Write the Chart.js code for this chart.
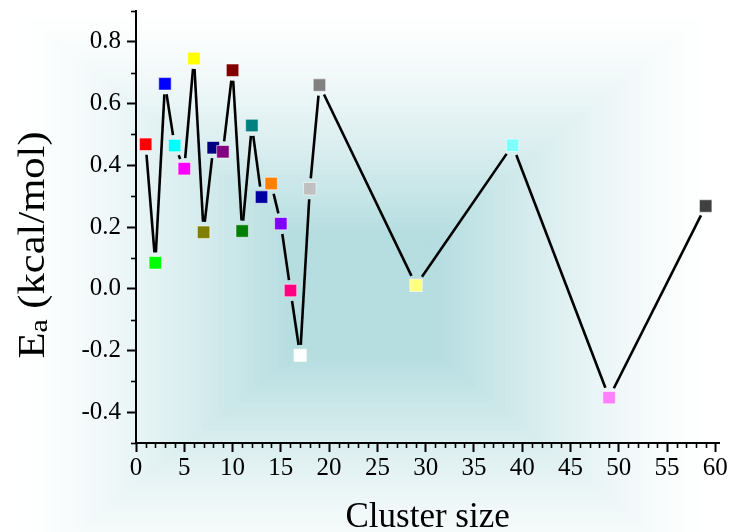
<!DOCTYPE html>
<html>
<head>
<meta charset="utf-8">
<script src="https://cdn.jsdelivr.net/npm/chart.js@4/dist/chart.umd.min.js"></script>
<style>
  html, body { margin: 0; padding: 0; background: #ffffff; }
  #wrap { width: 729px; height: 532px; position: relative; }
</style>
</head>
<body>
<div id="wrap"><canvas id="c" width="729" height="532"></canvas></div>
<script>
// ---- data ----
const clusterSizes = [1, 2, 3, 4, 5, 6, 7, 8, 9, 10, 11, 12, 13, 14, 15, 16, 17, 18, 19, 29, 39, 49, 59];
const activationEnergies = [0.468, 0.084, 0.664, 0.464, 0.389, 0.746, 0.183, 0.457, 0.444, 0.708, 0.187, 0.529, 0.297, 0.341, 0.211, -0.006, -0.216, 0.324, 0.660, 0.011, 0.465, -0.353, 0.268];
const markerColors = ['#FF0000', '#00FF00', '#0000FF', '#00FFFF', '#FF00FF', '#FFFF00', '#808000', '#000080', '#800080', '#800000', '#008000', '#008080', '#0000A0', '#FF8000', '#8000FF', '#FF0080', '#FFFFFF', '#C0C0C0', '#808080', '#FFFF80', '#80FFFF', '#FF80FF', '#404040'];
const xMajorTicks = [0, 5, 10, 15, 20, 25, 30, 35, 40, 45, 50, 55, 60];
const yMajorTicks = [-0.4, -0.2, 0.0, 0.2, 0.4, 0.6, 0.8];
const xAxisTitle = 'Cluster size';
const yAxisTitleMain = 'E';
const yAxisTitleSub = 'a';
const yAxisTitleRest = ' (kcal/mol)';

// ---- styling ----
const FONT = '"Liberation Serif", "Times New Roman", serif';

const points = clusterSizes.map((x, i) => ({ x: x, y: activationEnergies[i] }));

const bgPlugin = {
  id: 'bgGradient',
  beforeDraw(chart) {
    const ctx = chart.ctx;
    const W = chart.width, H = chart.height;
    ctx.save();
    ctx.fillStyle = '#ffffff';
    ctx.fillRect(0, 0, W, H);
    const cx = 365, cy = 295, hx = 350, hy = 290;
    const teal = [182, 221, 224];
    const N = 60;
    for (let i = 0; i <= N; i++) {
      const t = 1 - i / N;
      let s = Math.min(1, Math.max(0, (1 - t) / 0.78));
      s = Math.pow(s, 1.4);
      const r = Math.round(255 + (teal[0] - 255) * s);
      const g = Math.round(255 + (teal[1] - 255) * s);
      const b = Math.round(255 + (teal[2] - 255) * s);
      ctx.fillStyle = `rgb(${r},${g},${b})`;
      ctx.fillRect(cx - hx * t, cy - hy * t, 2 * hx * t, 2 * hy * t);
    }
    ctx.restore();
  }
};

const gapLinePlugin = {
  id: 'gapLine',
  beforeDatasetsDraw(chart) {
    const meta = chart.getDatasetMeta(0);
    const pts = meta.data;
    const ctx = chart.ctx;
    const gap = 10.5;
    ctx.save();
    ctx.strokeStyle = '#000000';
    ctx.lineWidth = 2.6;
    ctx.lineCap = 'butt';
    for (let i = 0; i < pts.length - 1; i++) {
      const a = pts[i], b = pts[i + 1];
      const dx = b.x - a.x, dy = b.y - a.y;
      const len = Math.hypot(dx, dy);
      if (len <= 2 * gap) continue;
      const ux = dx / len, uy = dy / len;
      ctx.beginPath();
      ctx.moveTo(a.x + ux * gap, a.y + uy * gap);
      ctx.lineTo(b.x - ux * gap, b.y - uy * gap);
      ctx.stroke();
    }
    ctx.restore();
  }
};

const minorTickPlugin = {
  id: 'minorTicks',
  afterDraw(chart) {
    const ctx = chart.ctx;
    const xs = chart.scales.x, ys = chart.scales.y;
    const area = chart.chartArea;
    ctx.save();
    ctx.strokeStyle = '#000000';
    ctx.lineWidth = 1.6;
    for (let v = 1; v <= 60; v++) {
      if (v % 5 === 0) continue;
      const px = Math.round(xs.getPixelForValue(v)) + 0.5;
      ctx.beginPath();
      ctx.moveTo(px, area.bottom);
      ctx.lineTo(px, area.bottom + 5);
      ctx.stroke();
    }
    for (let k = -5; k <= 9; k += 2) {
      const py = Math.round(ys.getPixelForValue(k / 10)) + 0.5;
      ctx.beginPath();
      ctx.moveTo(area.left, py);
      ctx.lineTo(area.left - 5, py);
      ctx.stroke();
    }
    // y axis title with subscript
    const big = 37, small = 26, stretch = 1.15;
    ctx.fillStyle = '#000000';
    ctx.textBaseline = 'alphabetic';
    ctx.font = `${big}px ${FONT}`;
    const w1 = ctx.measureText(yAxisTitleMain).width;
    const w3 = ctx.measureText(yAxisTitleRest).width;
    ctx.font = `${small}px ${FONT}`;
    const w2 = ctx.measureText(yAxisTitleSub).width;
    const total = w1 + w2 + w3;
    const centerY = (area.top + area.bottom) / 2 + 18;
    ctx.translate(44, centerY);
    ctx.rotate(-Math.PI / 2);
    ctx.scale(stretch, 1);
    let x0 = -total / 2;
    ctx.font = `${big}px ${FONT}`;
    ctx.fillText(yAxisTitleMain, x0, 0);
    ctx.font = `${small}px ${FONT}`;
    ctx.fillText(yAxisTitleSub, x0 + w1, 3);
    ctx.font = `${big}px ${FONT}`;
    ctx.fillText(yAxisTitleRest, x0 + w1 + w2, 0);
    ctx.restore();
  }
};

function zeroPad(scale) {
  scale.paddingTop = 0;
  scale.paddingBottom = 0;
  scale.paddingLeft = 0;
  scale.paddingRight = 0;
}

new Chart(document.getElementById('c'), {
  type: 'scatter',
  data: {
    datasets: [{
      label: 'Ea',
      data: points,
      showLine: false,
      pointStyle: 'rect',
      pointRadius: 8.8,
      pointHoverRadius: 8.8,
      backgroundColor: markerColors,
      borderColor: 'rgba(255,255,255,0.55)',
      borderWidth: 1
    }]
  },
  options: {
    responsive: false,
    animation: false,
    events: [],
    layout: { padding: { left: 0, top: 11, right: 8, bottom: 0 } },
    plugins: { legend: { display: false }, tooltip: { enabled: false }, title: { display: false } },
    scales: {
      x: {
        type: 'linear',
        min: 0,
        max: 60.4,
        afterFit(scale) { scale.height = 89; zeroPad(scale); },
        afterBuildTicks(scale) { scale.ticks = xMajorTicks.map(v => ({ value: v })); },
        border: { display: true, color: '#000000', width: 2 },
        grid: { drawOnChartArea: false, drawTicks: true, tickLength: 9, color: '#000000', tickWidth: 2 },
        ticks: {
          color: '#000000',
          font: { family: FONT, size: 25 },
          padding: 1,
          maxRotation: 0,
          autoSkip: false,
          callback: (v) => String(v)
        },
        title: {
          display: true,
          text: xAxisTitle,
          color: '#000000',
          font: { family: FONT, size: 35, lineHeight: 0.8 },
          padding: { top: 0, bottom: 0 }
        }
      },
      y: {
        type: 'linear',
        min: -0.5,
        max: 0.9,
        afterFit(scale) { scale.width = 136; zeroPad(scale); },
        afterBuildTicks(scale) { scale.ticks = yMajorTicks.map(v => ({ value: v })); },
        border: { display: true, color: '#000000', width: 2 },
        grid: { drawOnChartArea: false, drawTicks: true, tickLength: 9, color: '#000000', tickWidth: 2 },
        ticks: {
          color: '#000000',
          font: { family: FONT, size: 25 },
          padding: 6,
          autoSkip: false,
          callback: (v) => Number(v).toFixed(1)
        },
        title: { display: false }
      }
    }
  },
  plugins: [bgPlugin, gapLinePlugin, minorTickPlugin]
});
</script>
</body>
</html>
